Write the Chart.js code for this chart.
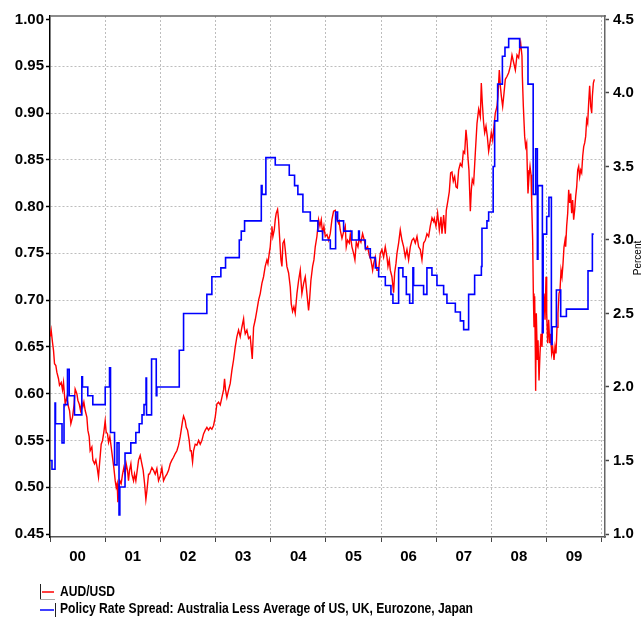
<!DOCTYPE html>
<html>
<head>
<meta charset="utf-8">
<title>AUD/USD and policy rate spread</title>
<script src="https://cdn.jsdelivr.net/npm/chart.js@4.4.0/dist/chart.umd.min.js"></script>
<style>
  body { margin: 0; background: #fff; }
  canvas { display: block; }
</style>
</head>
<body>
<canvas id="chart" width="643" height="617"></canvas>
<script>
// x axis: years 2000..2010, label sits in the middle of each year
const yearTicks = [2000, 2001, 2002, 2003, 2004, 2005, 2006, 2007, 2008, 2009, 2010];
const yearLabels = ['00', '01', '02', '03', '04', '05', '06', '07', '08', '09'];
const audTicks = [0.45, 0.50, 0.55, 0.60, 0.65, 0.70, 0.75, 0.80, 0.85, 0.90, 0.95, 1.00];
const spreadTicks = [1.0, 1.5, 2.0, 2.5, 3.0, 3.5, 4.0, 4.5];
const rightAxisTitle = 'Percent';

// AUD/USD (decimal years)
const audDates = [
  2000.003, 2000.021, 2000.045, 2000.064, 2000.082, 2000.106, 2000.124, 2000.154, 2000.172, 2000.203,
  2000.227, 2000.245, 2000.275, 2000.305, 2000.335, 2000.354, 2000.378, 2000.408, 2000.438, 2000.456,
  2000.487, 2000.505, 2000.529, 2000.553, 2000.577, 2000.595, 2000.614, 2000.638, 2000.668, 2000.686,
  2000.710, 2000.728, 2000.759, 2000.777, 2000.807, 2000.831, 2000.855, 2000.879, 2000.898, 2000.928,
  2000.952, 2000.976, 2001.000, 2001.018, 2001.043, 2001.061, 2001.085, 2001.109, 2001.133, 2001.157,
  2001.182, 2001.200, 2001.218, 2001.230, 2001.248, 2001.266, 2001.290, 2001.315, 2001.339, 2001.363,
  2001.381, 2001.405, 2001.423, 2001.442, 2001.466, 2001.484, 2001.514, 2001.532, 2001.556, 2001.581,
  2001.605, 2001.635, 2001.665, 2001.689, 2001.714, 2001.738, 2001.756, 2001.786,
  2001.804, 2001.847, 2001.877, 2001.907, 2001.937, 2001.967, 2001.998, 2002.028, 2002.058, 2002.088,
  2002.119, 2002.149, 2002.179, 2002.209, 2002.239, 2002.270, 2002.300, 2002.330, 2002.360, 2002.378,
  2002.403, 2002.421, 2002.451, 2002.469, 2002.493, 2002.523, 2002.542, 2002.560, 2002.584, 2002.602,
  2002.632, 2002.662, 2002.693, 2002.723, 2002.753, 2002.783, 2002.814, 2002.844, 2002.874, 2002.904,
  2002.934, 2002.965, 2002.995, 2003.025, 2003.055, 2003.086, 2003.116, 2003.146, 2003.164, 2003.182,
  2003.206, 2003.237, 2003.267, 2003.297, 2003.327, 2003.358, 2003.388, 2003.418, 2003.448, 2003.478,
  2003.509,
  2003.521, 2003.539, 2003.569, 2003.599, 2003.629, 2003.666, 2003.690, 2003.720, 2003.750, 2003.781,
  2003.811, 2003.841, 2003.871, 2003.901, 2003.932, 2003.950, 2003.974, 2003.992, 2004.010, 2004.022,
  2004.040, 2004.065, 2004.083, 2004.101, 2004.125, 2004.143, 2004.161, 2004.186, 2004.204, 2004.222,
  2004.246, 2004.264, 2004.294, 2004.325, 2004.355, 2004.373, 2004.397, 2004.421, 2004.445, 2004.476,
  2004.506, 2004.536, 2004.566, 2004.597, 2004.627, 2004.657, 2004.687, 2004.705, 2004.729, 2004.760,
  2004.784, 2004.808, 2004.838, 2004.868, 2004.893, 2004.917, 2004.941, 2004.965, 2004.989, 2005.020,
  2005.050, 2005.080, 2005.110, 2005.140, 2005.171, 2005.201, 2005.231,
  2005.243, 2005.261, 2005.292, 2005.322, 2005.352, 2005.370, 2005.394, 2005.425, 2005.443, 2005.473,
  2005.503, 2005.527, 2005.552, 2005.582, 2005.606, 2005.636, 2005.666, 2005.697, 2005.727, 2005.757,
  2005.787, 2005.817, 2005.848, 2005.866, 2005.896, 2005.926, 2005.956, 2005.987, 2006.017, 2006.047,
  2006.077, 2006.108, 2006.126, 2006.150, 2006.168, 2006.198, 2006.228, 2006.247, 2006.271, 2006.289,
  2006.319, 2006.349, 2006.380, 2006.410, 2006.440, 2006.470, 2006.500, 2006.531, 2006.561, 2006.591,
  2006.621, 2006.652, 2006.682, 2006.712, 2006.742, 2006.772, 2006.803, 2006.833, 2006.863, 2006.893,
  2006.924, 2006.954,
  2006.966, 2006.996, 2007.026, 2007.057, 2007.087, 2007.105, 2007.135, 2007.165, 2007.183, 2007.214,
  2007.238, 2007.262, 2007.286, 2007.310, 2007.335, 2007.359, 2007.383, 2007.407, 2007.437, 2007.468,
  2007.492, 2007.516, 2007.540, 2007.558, 2007.576, 2007.594, 2007.619, 2007.637, 2007.655, 2007.679,
  2007.709, 2007.740, 2007.770, 2007.800, 2007.818, 2007.836, 2007.860, 2007.879, 2007.903, 2007.927,
  2007.951, 2007.975, 2007.999, 2008.024, 2008.048, 2008.072, 2008.102, 2008.120, 2008.144, 2008.163,
  2008.181, 2008.205, 2008.229, 2008.253, 2008.283, 2008.314, 2008.344, 2008.374, 2008.404, 2008.435,
  2008.465, 2008.495, 2008.513, 2008.531, 2008.555,
  2008.562, 2008.580, 2008.604, 2008.622, 2008.640, 2008.652, 2008.664, 2008.682, 2008.701, 2008.719,
  2008.731, 2008.749, 2008.761, 2008.773, 2008.785, 2008.797, 2008.803, 2008.815, 2008.834, 2008.846,
  2008.864, 2008.882, 2008.900, 2008.918, 2008.936, 2008.954, 2008.973, 2008.991, 2009.003, 2009.021,
  2009.039, 2009.057, 2009.075, 2009.093, 2009.112, 2009.136, 2009.154, 2009.172, 2009.190, 2009.208,
  2009.226, 2009.245, 2009.263, 2009.281, 2009.299, 2009.317, 2009.335, 2009.347, 2009.365, 2009.384,
  2009.402, 2009.420, 2009.438, 2009.456, 2009.474, 2009.492, 2009.510, 2009.529, 2009.547, 2009.565,
  2009.583, 2009.601, 2009.619, 2009.637, 2009.656, 2009.674, 2009.692, 2009.710, 2009.728, 2009.746,
  2009.764, 2009.782, 2009.801, 2009.819, 2009.831, 2009.849, 2009.867
];
const audValues = [
  0.661, 0.668, 0.655, 0.646, 0.632, 0.630, 0.623, 0.616, 0.609, 0.612,
  0.604, 0.612, 0.589, 0.596, 0.586, 0.582, 0.568, 0.575, 0.589, 0.605,
  0.600, 0.593, 0.589, 0.582, 0.591, 0.586, 0.591, 0.582, 0.575, 0.561,
  0.554, 0.539, 0.543, 0.529, 0.525, 0.529, 0.521, 0.511, 0.525, 0.546,
  0.550, 0.559, 0.571, 0.559, 0.557, 0.548, 0.554, 0.543, 0.532, 0.521,
  0.507, 0.500, 0.504, 0.484, 0.496, 0.507, 0.504, 0.514, 0.521, 0.514,
  0.525, 0.518, 0.507, 0.518, 0.525, 0.514, 0.507, 0.514, 0.507, 0.518,
  0.529, 0.534, 0.525, 0.518, 0.504, 0.487, 0.496, 0.514,
  0.514, 0.521, 0.518, 0.514, 0.520, 0.507, 0.512, 0.521, 0.507, 0.511,
  0.514, 0.518, 0.525, 0.529, 0.532, 0.536, 0.539, 0.545, 0.554, 0.561,
  0.571, 0.576, 0.571, 0.564, 0.561, 0.550, 0.539, 0.539, 0.527, 0.539,
  0.546, 0.545, 0.550, 0.546, 0.550, 0.557, 0.561, 0.564, 0.561, 0.564,
  0.562, 0.566, 0.575, 0.589, 0.591, 0.588, 0.596, 0.604, 0.616, 0.604,
  0.596, 0.604, 0.611, 0.625, 0.636, 0.650, 0.661, 0.668, 0.661, 0.671,
  0.680,
  0.671, 0.664, 0.668, 0.659, 0.661, 0.637, 0.671, 0.679, 0.689, 0.700,
  0.707, 0.718, 0.725, 0.736, 0.743, 0.739, 0.750, 0.757, 0.771, 0.779,
  0.768, 0.775, 0.786, 0.793, 0.797, 0.786, 0.768, 0.743, 0.736, 0.761,
  0.764, 0.754, 0.736, 0.729, 0.714, 0.696, 0.688, 0.693, 0.686, 0.707,
  0.721, 0.732, 0.707, 0.718, 0.725, 0.707, 0.689, 0.700, 0.721, 0.736,
  0.743, 0.757, 0.768, 0.786, 0.779, 0.786, 0.771, 0.779, 0.768, 0.770,
  0.764, 0.771, 0.786, 0.795, 0.796, 0.786, 0.782,
  0.784, 0.775, 0.766, 0.773, 0.779, 0.757, 0.764, 0.761, 0.770, 0.757,
  0.750, 0.743, 0.762, 0.757, 0.766, 0.762, 0.771, 0.764, 0.754, 0.757,
  0.748, 0.743, 0.732, 0.739, 0.746, 0.732, 0.732, 0.750, 0.754, 0.746,
  0.757, 0.746, 0.736, 0.743, 0.732, 0.725, 0.708, 0.729, 0.739, 0.750,
  0.761, 0.775, 0.764, 0.757, 0.746, 0.754, 0.743, 0.757, 0.764, 0.766,
  0.761, 0.768, 0.757, 0.754, 0.743, 0.761, 0.764, 0.771, 0.768, 0.779,
  0.788, 0.784,
  0.787, 0.779, 0.793, 0.775, 0.789, 0.771, 0.791, 0.771, 0.796, 0.807,
  0.816, 0.836, 0.837, 0.827, 0.832, 0.821, 0.820, 0.839, 0.846, 0.843,
  0.859, 0.857, 0.882, 0.871, 0.852, 0.839, 0.795, 0.818, 0.829, 0.825,
  0.857, 0.889, 0.904, 0.896, 0.932, 0.911, 0.889, 0.879, 0.886, 0.875,
  0.859, 0.868, 0.879, 0.871, 0.886, 0.900, 0.907, 0.918, 0.946, 0.929,
  0.918, 0.907, 0.921, 0.936, 0.939, 0.943, 0.950, 0.962, 0.954, 0.946,
  0.962, 0.959, 0.968, 0.975, 0.961,
  0.939, 0.907, 0.875, 0.864, 0.868, 0.839, 0.814, 0.832, 0.843, 0.834,
  0.804, 0.764, 0.707, 0.671, 0.704, 0.646, 0.603, 0.686, 0.636, 0.657,
  0.614, 0.643, 0.664, 0.650, 0.689, 0.707, 0.679, 0.725, 0.686, 0.654,
  0.679, 0.654, 0.664, 0.643, 0.650, 0.636, 0.650, 0.643, 0.671, 0.686,
  0.707, 0.711, 0.732, 0.725, 0.739, 0.757, 0.764, 0.757, 0.779, 0.793,
  0.818, 0.804, 0.814, 0.793, 0.807, 0.786, 0.796, 0.811, 0.821, 0.839,
  0.843, 0.832, 0.839, 0.836, 0.854, 0.864, 0.868, 0.875, 0.893, 0.889,
  0.911, 0.929, 0.907, 0.900, 0.918, 0.932, 0.936
];

// policy rate spread, percent; each value holds until the next date
const spreadDates = [
  2000.000, 2000.036, 2000.091, 2000.100, 2000.218, 2000.254, 2000.317, 2000.348, 2000.444, 2000.577,
  2000.589, 2000.685, 2000.776, 2001.001, 2001.079, 2001.097, 2001.170, 2001.215, 2001.251, 2001.266,
  2001.360, 2001.465, 2001.556, 2001.617, 2001.668, 2001.704, 2001.741, 2001.750, 2001.841, 2001.926,
  2001.937, 2002.343, 2002.421, 2002.843, 2002.934, 2003.097, 2003.182, 2003.431, 2003.467, 2003.527,
  2003.830, 2003.844, 2003.913, 2004.083, 2004.337, 2004.433, 2004.493, 2004.584, 2004.718, 2004.856,
  2004.941, 2005.081, 2005.177, 2005.213, 2005.322, 2005.472, 2005.594, 2005.607, 2005.715, 2005.806,
  2005.897, 2005.957, 2006.078, 2006.180, 2006.216, 2006.319, 2006.397, 2006.459, 2006.519, 2006.578,
  2006.591, 2006.772, 2006.832, 2006.923, 2007.014, 2007.135, 2007.195, 2007.347, 2007.438, 2007.498,
  2007.588, 2007.697, 2007.819, 2007.830, 2007.920, 2007.951, 2008.033, 2008.060, 2008.114, 2008.200,
  2008.247, 2008.314, 2008.513, 2008.664, 2008.758, 2008.803, 2008.834, 2008.845, 2008.925, 2008.939,
  2009.003, 2009.044, 2009.088, 2009.102, 2009.179, 2009.257, 2009.360, 2009.752, 2009.831, 2009.855
];
const spreadValues = [
  1.50, 1.44, 1.89, 1.75, 1.62, 1.88, 2.12, 1.94, 1.81, 2.07,
  2.00, 1.94, 1.88, 2.00, 2.13, 1.69, 1.47, 1.62, 1.13, 1.32,
  1.55, 1.62, 1.69, 1.75, 1.81, 1.88, 2.06, 1.81, 2.19, 1.94,
  2.00, 2.25, 2.50, 2.63, 2.75, 2.81, 2.88, 3.00, 3.06, 3.13,
  3.37, 3.31, 3.56, 3.51, 3.44, 3.37, 3.31, 3.19, 3.13, 3.06,
  3.00, 2.94, 3.19, 3.13, 3.06, 3.00, 3.06, 3.00, 2.94, 2.88,
  2.81, 2.75, 2.69, 2.63, 2.57, 2.81, 2.75, 2.63, 2.57, 2.81,
  2.69, 2.63, 2.81, 2.76, 2.69, 2.63, 2.57, 2.51, 2.45, 2.39,
  2.63, 2.76, 2.82, 3.08, 3.13, 3.19, 3.50, 3.81, 4.06, 4.25,
  4.31, 4.37, 4.31, 4.06, 3.31, 3.62, 2.87, 3.37, 2.37, 3.04,
  3.16, 3.29, 2.29, 2.41, 2.66, 2.48, 2.53, 2.79, 3.04, 3.04
];

const tickFont = { family: '"Liberation Sans", Arial, sans-serif', size: 15, weight: 'bold' };
const dotGrey = '#bdbdbd';
const clear = 'rgba(0,0,0,0)';

// top frame line, rotated "Percent" and the two-row legend
const chartExtras = {
  id: 'chartExtras',
  afterDraw(chart) {
    const ctx = chart.ctx;
    const area = chart.chartArea;
    ctx.save();
    ctx.strokeStyle = '#666';
    ctx.lineWidth = 1.5;
    ctx.beginPath();
    ctx.moveTo(area.left, area.top);
    ctx.lineTo(area.right + 1, area.top);
    ctx.stroke();

    ctx.fillStyle = '#000';
    ctx.font = '10px "Liberation Sans", Arial, sans-serif';
    ctx.translate(638, 258);
    ctx.rotate(-Math.PI / 2);
    ctx.textAlign = 'center';
    ctx.textBaseline = 'middle';
    ctx.fillText(rightAxisTitle, 0, 0);
    ctx.restore();

    const rows = [592, 609];
    ctx.save();
    ctx.font = 'bold 14px "Liberation Sans Narrow", "Arial Narrow", "Liberation Sans", sans-serif';
    ctx.textBaseline = 'middle';
    chart.data.datasets.forEach(function(ds, i) {
      const y = rows[i];
      // little bracket + coloured stroke, like the original key
      ctx.lineWidth = 1;
      ctx.strokeStyle = '#222';
      ctx.beginPath();
      if (i === 0) { ctx.moveTo(40.5, y - 8); ctx.lineTo(40.5, y + 7); }
      else { ctx.moveTo(55.5, y - 6); ctx.lineTo(55.5, y + 8); }
      ctx.stroke();
      ctx.strokeStyle = '#aaa';
      ctx.beginPath();
      ctx.moveTo(40, y + (i === 0 ? 7.5 : 8.5));
      ctx.lineTo(55, y + (i === 0 ? 7.5 : 8.5));
      ctx.stroke();
      ctx.strokeStyle = ds.borderColor;
      ctx.lineWidth = 1.5;
      ctx.beginPath();
      ctx.moveTo(i === 0 ? 42 : 40, y + i);
      ctx.lineTo(54, y + i);
      ctx.stroke();

      ctx.fillStyle = '#000';
      const w = ctx.measureText(ds.label).width;
      const target = i === 0 ? 55 : 413;
      ctx.save();
      ctx.translate(60, y);
      if (w > target * 1.06) ctx.scale(target / w, 1);
      ctx.fillText(ds.label, 0, 0);
      ctx.restore();
    });
    ctx.restore();
  }
};

new Chart(document.getElementById('chart'), {
  type: 'line',
  data: {
    datasets: [
      {
        label: 'AUD/USD',
        data: audDates.map(function(d, i) { return { x: d, y: audValues[i] }; }),
        yAxisID: 'y',
        borderColor: '#ff0000',
        borderWidth: 1.4,
        pointRadius: 0,
        tension: 0,
        order: 2
      },
      {
        label: 'Policy Rate Spread: Australia Less Average of US, UK, Eurozone, Japan',
        data: spreadDates.map(function(d, i) { return { x: d, y: spreadValues[i] }; }),
        yAxisID: 'y1',
        borderColor: '#0000ff',
        borderWidth: 1.6,
        pointRadius: 0,
        stepped: true,
        order: 1
      }
    ]
  },
  options: {
    responsive: false,
    animation: false,
    devicePixelRatio: 1,
    layout: { padding: { top: 16, left: 0, right: 0, bottom: 0 } },
    plugins: {
      legend: { display: false },
      tooltip: { enabled: false }
    },
    scales: {
      x: {
        type: 'linear',
        min: 2000,
        max: 2010.06,
        afterBuildTicks: function(s) { s.ticks = yearTicks.map(function(v) { return { value: v }; }); },
        afterFit: function(s) { s.height = 80; },
        grid: {
          color: function(c) { return c.index === 0 ? clear : dotGrey; },
          lineWidth: 1,
          tickColor: '#444',
          tickLength: 5,
          tickWidth: 1,
          tickBorderDash: []
        },
        border: { display: true, color: '#555', width: 1.5, dash: [2, 2] },
        ticks: {
          autoSkip: false,
          maxRotation: 0,
          font: tickFont,
          color: '#000',
          padding: 6,
          labelOffset: 27.6,
          callback: function(v, i) { return yearLabels[i] || ''; }
        }
      },
      y: {
        position: 'left',
        min: 0.4468,
        max: 1.0037,
        afterBuildTicks: function(s) { s.ticks = audTicks.map(function(v) { return { value: v }; }); },
        afterFit: function(s) { s.width = 50; },
        grid: {
          color: function(c) { return (c.index === 0 || c.index === audTicks.length - 1) ? clear : dotGrey; },
          tickColor: '#000',
          tickLength: 4,
          tickWidth: 1.5,
          tickBorderDash: []
        },
        border: { color: '#000', width: 1.5, dash: [2, 2] },
        ticks: {
          font: tickFont,
          color: '#000',
          padding: 2,
          callback: function(v) { return Number(v).toFixed(2); }
        }
      },
      y1: {
        position: 'right',
        min: 0.9796,
        max: 4.5236,
        afterBuildTicks: function(s) { s.ticks = spreadTicks.map(function(v) { return { value: v }; }); },
        afterFit: function(s) { s.width = 38; },
        grid: {
          drawOnChartArea: false,
          tickColor: '#444',
          tickLength: 4,
          tickWidth: 1.5
        },
        border: { color: '#666', width: 1.5 },
        ticks: {
          font: tickFont,
          color: '#000',
          padding: 4,
          callback: function(v) { return Number(v).toFixed(1); }
        }
      }
    }
  },
  plugins: [chartExtras]
});
</script>
</body>
</html>
